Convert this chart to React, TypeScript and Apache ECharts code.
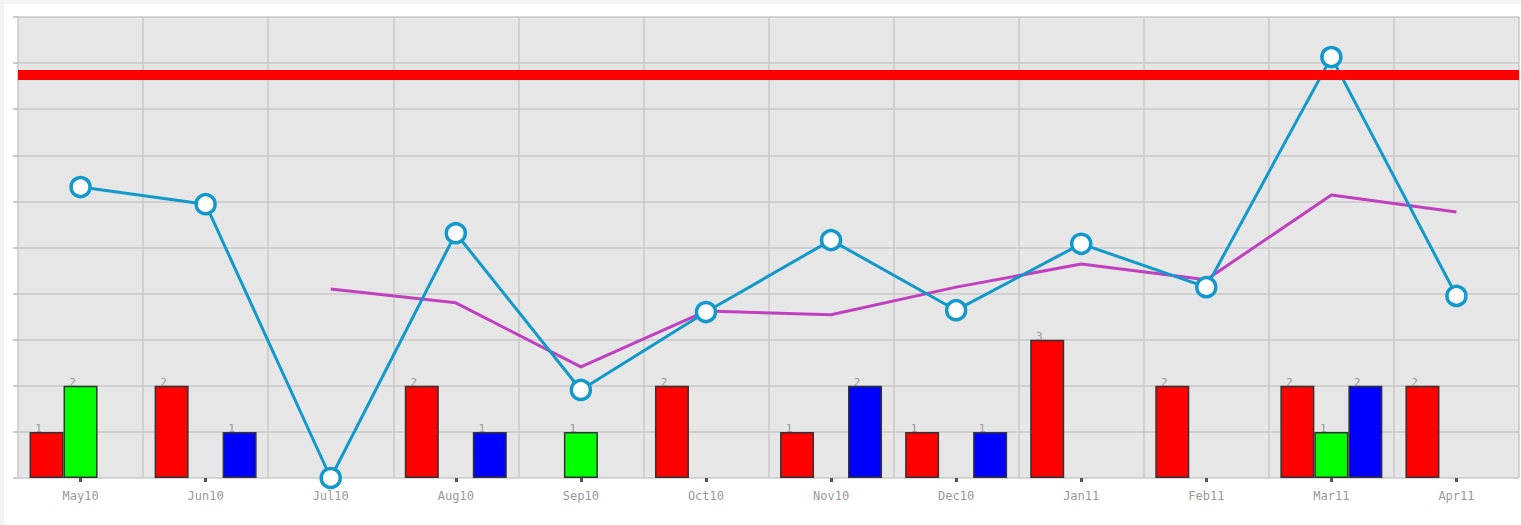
import React, { useEffect, useRef } from "react";
import * as echarts from "echarts";

const categories = ["May10", "Jun10", "Jul10", "Aug10", "Sep10", "Oct10", "Nov10", "Dec10", "Jan11", "Feb11", "Mar11", "Apr11"];
const redBars = [1, 2, null, 2, null, 2, 1, 1, 3, 2, 2, 2];
const greenBars = [2, null, null, null, 1, null, null, null, null, null, 1, null];
const blueBars = [null, 1, null, 1, null, null, 2, 1, null, null, 2, null];
const lineValues = [6.31, 5.94, 0, 5.31, 1.91, 3.6, 5.16, 3.64, 5.08, 4.14, 9.13, 3.95];
const avgValues = [null, null, 4.1, 3.8, 2.41, 3.62, 3.54, 4.14, 4.64, 4.3, 6.14, 5.77];
const targetValue = 8.74;

export default function App() {
  const ref = useRef<HTMLDivElement>(null);
  useEffect(() => {
    if (!ref.current) return;
    const chart = echarts.init(ref.current, null, { renderer: "svg" });
    const barLabel = {
      show: true,
      position: "top",
      distance: 0,
      offset: [-8, 2],
      color: "#999",
      fontSize: 11,
      fontFamily: "DejaVu Sans Mono",
    };
    const barSeries = (name: string, data: any[], color: string) => ({
      name,
      type: "bar",
      data,
      barWidth: 34,
      barGap: "0%",
      itemStyle: { color, borderColor: "#333", borderWidth: 1.5 },
      label: barLabel,
      z: 2,
    });
    chart.setOption({
      animation: false,
      backgroundColor: "transparent",
      grid: { left: 18, top: 17, right: 2, bottom: 47, show: true, backgroundColor: "#e6e6e6", borderWidth: 0 },
      xAxis: {
        type: "category",
        data: categories,
        boundaryGap: true,
        axisLine: { show: false },
        axisTick: { show: true, alignWithLabel: true, length: 4, lineStyle: { color: "#555", width: 3 } },
        axisLabel: { color: "#999", fontSize: 12, fontFamily: "DejaVu Sans Mono", margin: 12 },
        splitLine: { show: true, interval: 0, lineStyle: { color: "#c8c8c8", width: 1.5 } },
      },
      yAxis: {
        type: "value",
        min: 0,
        max: 10,
        interval: 1,
        axisLine: { show: false },
        axisLabel: { show: false },
        axisTick: { show: true, length: 5, lineStyle: { color: "#bbb", width: 1.5 } },
        splitLine: { show: true, lineStyle: { color: "#c8c8c8", width: 1.5 } },
      },
      series: [
        barSeries("red", redBars, "#ff0000"),
        barSeries("green", greenBars, "#00ff00"),
        barSeries("blue", blueBars, "#0000ff"),
        {
          name: "avg",
          type: "line",
          data: avgValues,
          showSymbol: false,
          symbol: "none",
          lineStyle: { color: "#c040c0", width: 3 },
          z: 3,
        },
        {
          name: "value",
          type: "line",
          data: lineValues,
          symbol: "circle",
          symbolSize: 19,
          lineStyle: { color: "#1199cc", width: 3 },
          itemStyle: { color: "#ffffff", borderColor: "#1199cc", borderWidth: 3.5 },
          z: 4,
        },
        {
          name: "target",
          type: "line",
          data: [],
          z: 10,
          markLine: {
            silent: true,
            symbol: "none",
            label: { show: false },
            lineStyle: { color: "#ff0000", width: 10, type: "solid" },
            data: [{ yAxis: targetValue }],
            z: 10,
          },
        },
      ],
    });
    return () => chart.dispose();
  }, []);
  return (
    <div style={{ position: "fixed", left: 0, top: 0, width: 1521, height: 525, background: "#f4f4f4" }}>
      <div style={{ position: "absolute", left: 4, top: 4, width: 1517, height: 521, background: "#ffffff" }}>
        <div ref={ref} style={{ position: "absolute", left: -4, top: -4, width: 1521, height: 525 }} />
      </div>
    </div>
  );
}
